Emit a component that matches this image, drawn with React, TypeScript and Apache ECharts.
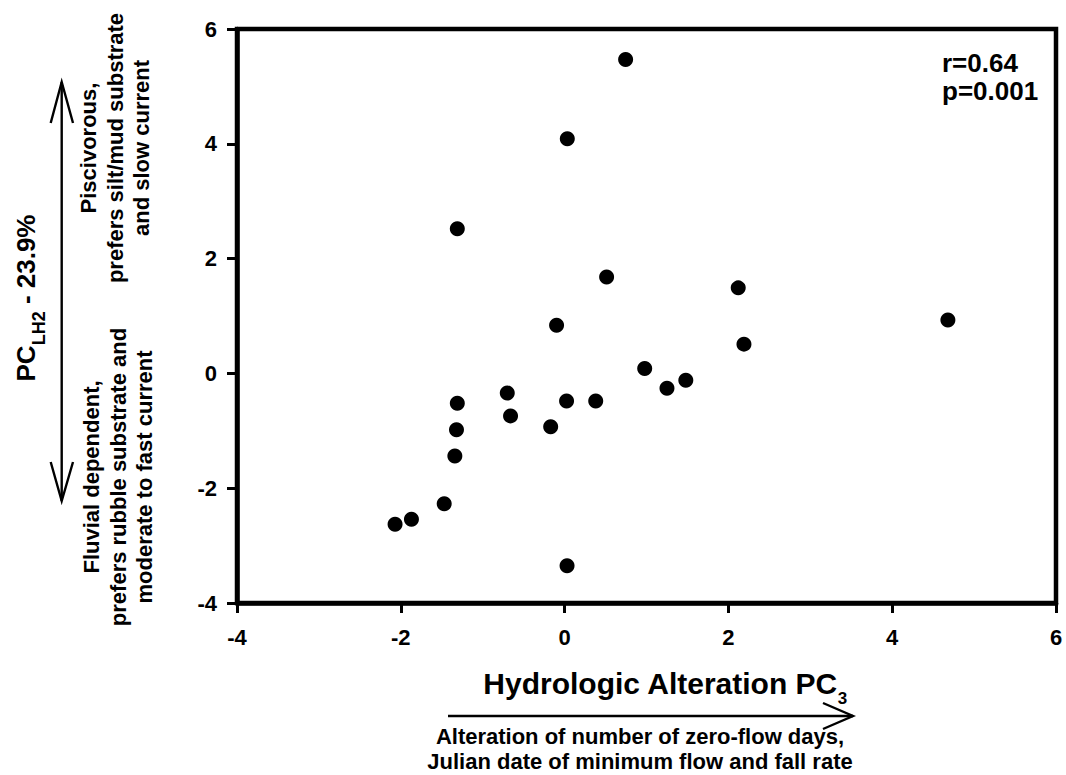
import React, { useEffect, useRef } from "react";
import * as echarts from "echarts";

// Hydrologic Alteration PC3 (x) vs PC_LH2 (y)
const xValues = [
  0.745, 0.033, -1.31, 0.513, -0.098, 2.12, 2.19, 4.68, 0.978, 1.48, 1.25, -1.31,
  -0.7, -0.66, 0.024, 0.38, -0.17, -1.32, -1.34, -1.47, -1.87, -2.07, 0.03,
];
const yValues = [
  5.47, 4.09, 2.52, 1.68, 0.837, 1.49, 0.51, 0.93, 0.087, -0.12, -0.26, -0.52,
  -0.34, -0.74, -0.48, -0.48, -0.93, -0.98, -1.44, -2.27, -2.54, -2.63, -3.35,
];
const axisMin = -4;
const axisMax = 6;
const axisStep = 2;
const statsLines = ["r=0.64", "p=0.001"];
const yTitleMain = "PC";
const yTitleSub = "LH2";
const yTitleTail = " - 23.9%";
const xTitleMain = "Hydrologic Alteration PC";
const xTitleSub = "3";
const upperNote = "Piscivorous,\nprefers silt/mud substrate\nand slow current";
const lowerNote = "Fluvial dependent,\nprefers rubble substrate and\nmoderate to fast current";
const xNote = "Alteration of number of zero-flow days,\nJulian date of minimum flow and fall rate";

const FONT = "'Liberation Sans', Arial, Helvetica, sans-serif";

export default function App() {
  const ref = useRef<HTMLDivElement>(null);
  useEffect(() => {
    if (!ref.current) return;
    const chart = echarts.init(ref.current, null, { renderer: "svg" });
    const data = xValues.map((x, i) => [x, yValues[i]]);
    const lineStyle = { stroke: "#000", lineWidth: 2.4, fill: "none" };
    chart.setOption({
      animation: false,
      backgroundColor: "#fff",
      grid: {
        left: 237,
        right: 10,
        top: 29,
        bottom: 172,
        show: true,
        borderColor: "#000",
        borderWidth: 4.5,
        backgroundColor: "transparent",
      },
      xAxis: {
        type: "value",
        min: axisMin,
        max: axisMax,
        interval: axisStep,
        splitLine: { show: false },
        axisLine: { show: true, onZero: false, lineStyle: { color: "#000", width: 4.5 } },
        axisTick: { show: true, inside: false, length: 10, lineStyle: { color: "#000", width: 3 } },
        axisLabel: {
          margin: 23,
          color: "#000",
          fontFamily: FONT,
          fontWeight: "bold",
          fontSize: 22,
        },
      },
      yAxis: {
        type: "value",
        min: axisMin,
        max: axisMax,
        interval: axisStep,
        splitLine: { show: false },
        axisLine: { show: true, onZero: false, lineStyle: { color: "#000", width: 4.5 } },
        axisTick: { show: true, inside: false, length: 10, lineStyle: { color: "#000", width: 3 } },
        axisLabel: {
          margin: 20,
          color: "#000",
          fontFamily: FONT,
          fontWeight: "bold",
          fontSize: 22,
        },
      },
      series: [
        {
          type: "scatter",
          data,
          symbol: "circle",
          symbolSize: 15,
          itemStyle: { color: "#000", opacity: 1 },
        },
      ],
      graphic: [
        {
          type: "text",
          x: 942,
          y: 63,
          style: {
            text: statsLines[0],
            fontFamily: FONT,
            fontWeight: "bold",
            fontSize: 26,
            fill: "#000",
            textAlign: "left",
            textVerticalAlign: "middle",
          },
        },
        {
          type: "text",
          x: 942,
          y: 91,
          style: {
            text: statsLines[1],
            fontFamily: FONT,
            fontWeight: "bold",
            fontSize: 26,
            fill: "#000",
            textAlign: "left",
            textVerticalAlign: "middle",
          },
        },
        {
          type: "text",
          x: 26,
          y: 298,
          rotation: Math.PI / 2,
          style: {
            text: `{a|${yTitleMain}}{b|${yTitleSub}}{a|${yTitleTail}}`,
            textAlign: "center",
            textVerticalAlign: "middle",
            fill: "#000",
            rich: {
              a: { fontFamily: FONT, fontWeight: "bold", fontSize: 26, lineHeight: 44, fill: "#000" },
              b: { fontFamily: FONT, fontWeight: "bold", fontSize: 18, padding: [25, 0, 0, 0], fill: "#000" },
            },
          },
        },
        {
          type: "text",
          x: 115,
          y: 148,
          rotation: Math.PI / 2,
          style: {
            text: upperNote,
            fontFamily: FONT,
            fontWeight: "bold",
            fontSize: 22,
            lineHeight: 26.5,
            fill: "#000",
            textAlign: "center",
            textVerticalAlign: "middle",
          },
        },
        {
          type: "text",
          x: 118,
          y: 477,
          rotation: Math.PI / 2,
          style: {
            text: lowerNote,
            fontFamily: FONT,
            fontWeight: "bold",
            fontSize: 22,
            lineHeight: 26.5,
            fill: "#000",
            textAlign: "center",
            textVerticalAlign: "middle",
          },
        },
        { type: "line", shape: { x1: 61.7, y1: 82, x2: 61.7, y2: 501 }, style: lineStyle },
        { type: "polyline", shape: { points: [[50.7, 123], [61.7, 82], [73, 123]] }, style: lineStyle },
        { type: "polyline", shape: { points: [[50.7, 462], [61.7, 501], [73, 462]] }, style: lineStyle },
        {
          type: "text",
          x: 665,
          y: 683,
          style: {
            text: `{a|${xTitleMain}}{b|${xTitleSub}}`,
            textAlign: "center",
            textVerticalAlign: "middle",
            fill: "#000",
            rich: {
              a: { fontFamily: FONT, fontWeight: "bold", fontSize: 30, lineHeight: 50, fill: "#000" },
              b: { fontFamily: FONT, fontWeight: "bold", fontSize: 17, padding: [31, 0, 0, 0], fill: "#000" },
            },
          },
        },
        { type: "line", shape: { x1: 448, y1: 716, x2: 853, y2: 716 }, style: lineStyle },
        { type: "polyline", shape: { points: [[823, 703], [853, 716], [823, 729]] }, style: lineStyle },
        {
          type: "text",
          x: 640,
          y: 749,
          style: {
            text: xNote,
            fontFamily: FONT,
            fontWeight: "bold",
            fontSize: 22,
            lineHeight: 25,
            fill: "#000",
            textAlign: "center",
            textVerticalAlign: "middle",
          },
        },
      ],
    });
    return () => chart.dispose();
  }, []);
  return (
    <div
      ref={ref}
      style={{ position: "absolute", left: 0, top: 0, width: 1066, height: 775, background: "#fff" }}
    />
  );
}
